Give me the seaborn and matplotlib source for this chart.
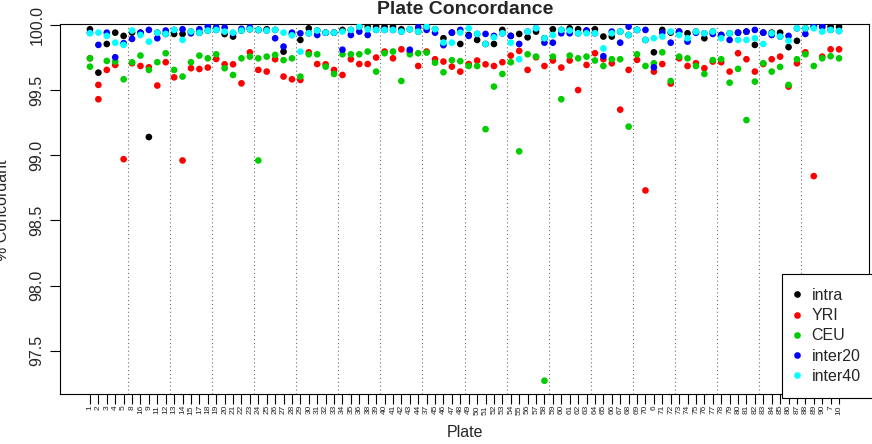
import numpy as np
import pandas as pd
import matplotlib
matplotlib.use('Agg')
import matplotlib.pyplot as plt
from matplotlib.lines import Line2D
import seaborn as sns

# Plate labels in plotting order
plates = ['1', '2', '3', '4', '5', '8', '16', '9', '11', '12', '13', '14', '15',
          '17', '18', '19', '20', '21', '22', '23', '24', '25', '26', '27', '28',
          '29', '30', '31', '32', '33', '34', '35', '36', '38', '39', '40', '41',
          '42', '43', '44', '37', '45', '46', '47', '48', '49', '50', '51', '52',
          '53', '54', '55', '56', '57', '58', '59', '60', '61', '62', '63', '64',
          '65', '66', '67', '68', '69', '70', '6', '71', '72', '73', '74', '75',
          '76', '77', '78', '79', '80', '81', '82', '83', '84', '85', '86', '87',
          '88', '89', '90', '7', '10']

series_names = ['intra', 'YRI', 'CEU', 'inter20', 'inter40']
series_colors = ['#000000', '#FF0000', '#00CD00', '#0000FF', '#00FFFF']

# % concordance per plate
intra = [99.967, 99.634, 99.854, 99.941, 99.916, 99.941, 99.940, 99.140, 99.941, 99.931,
         99.931, 99.931, 99.949, 99.940, 99.957, 99.962, 99.930, 99.911, 99.957, 99.967,
         99.962, 99.967, 99.962, 99.795, 99.930, 99.885, 99.974, 99.957, 99.941, 99.941,
         99.962, 99.962, 99.987, 99.987, 99.987, 99.987, 99.987, 99.967, 99.967, 99.949,
         99.987, 99.967, 99.898, 99.941, 99.854, 99.923, 99.885, 99.854, 99.854, 99.962,
         99.916, 99.931, 99.905, 99.949, 99.898, 99.967, 99.962, 99.974, 99.967, 99.957,
         99.967, 99.911, 99.911, 99.949, 99.923, 99.962, 99.885, 99.790, 99.962, 99.941,
         99.949, 99.936, 99.949, 99.898, 99.949, 99.923, 99.936, 99.941, 99.949, 99.847,
         99.941, 99.941, 99.941, 99.830, 99.878, 99.974, 99.987, 99.987, 99.987, 99.987]
yri = [99.744, 99.540, 99.655, 99.693, 98.970, 99.706, 99.685, 99.675, 99.535, 99.714,
       99.598, 98.960, 99.668, 99.662, 99.673, 99.739, 99.698, 99.698, 99.552, 99.790,
       99.655, 99.642, 99.737, 99.604, 99.583, 99.578, 99.790, 99.700, 99.698, 99.655,
       99.616, 99.737, 99.700, 99.700, 99.750, 99.796, 99.744, 99.813, 99.796, 99.685,
       99.796, 99.737, 99.719, 99.680, 99.642, 99.700, 99.727, 99.698, 99.685, 99.714,
       99.765, 99.801, 99.655, 99.752, 99.685, 99.727, 99.673, 99.727, 99.500, 99.693,
       99.783, 99.737, 99.706, 99.350, 99.655, 99.732, 98.730, 99.642, 99.700, 99.550,
       99.744, 99.685, 99.706, 99.668, 99.719, 99.714, 99.642, 99.783, 99.737, 99.642,
       99.700, 99.737, 99.757, 99.527, 99.706, 99.790, 98.840, 99.757, 99.813, 99.813]
ceu = [99.744, np.nan, 99.724, 99.719, 99.583, 99.714, 99.765, 99.655, 99.714, 99.783,
       99.655, 99.604, 99.714, 99.765, 99.744, 99.775, 99.668, 99.616, 99.744, 99.757,
       98.960, 99.757, 99.770, 99.730, 99.744, 99.604, 99.775, 99.775, 99.680, 99.624,
       99.775, 99.775, 99.775, 99.796, 99.642, 99.783, 99.796, 99.570, 99.775, 99.783,
       99.788, 99.710, 99.637, 99.730, 99.722, 99.685, 99.685, 99.200, 99.527, 99.624,
       99.714, 99.030, 99.775, 99.757, 97.270, 99.757, 99.430, 99.765, 99.744, 99.757,
       99.727, 99.685, 99.737, 99.737, 99.220, 99.775, 99.685, 99.706, 99.790, 99.570,
       99.757, 99.744, 99.685, 99.624, 99.730, 99.737, 99.557, 99.663, 99.270, 99.565,
       99.706, 99.642, 99.678, 99.540, 99.737, 99.775, 99.685, 99.744, 99.760, 99.744]
inter20 = [99.940, 99.847, 99.941, 99.752, 99.860, 99.893, 99.941, 99.962, 99.898, 99.957,
           99.962, 99.967, 99.936, 99.967, 99.987, 99.980, 99.980, 99.936, 99.970, 99.980,
           99.962, 99.957, 99.898, 99.834, 99.941, 99.936, 99.936, 99.923, 99.940, 99.941,
           99.810, 99.923, 99.949, 99.923, 99.962, 99.962, 99.962, 99.949, 99.810, 99.982,
           99.962, 99.941, 99.845, 99.941, 99.962, 99.916, 99.931, 99.931, 99.916, 99.936,
           99.916, 99.854, 99.949, 99.974, 99.864, 99.864, 99.936, 99.936, 99.936, 99.957,
           99.936, 99.760, 99.949, 99.864, 99.987, 99.962, 99.962, 99.675, 99.941, 99.864,
           99.949, 99.872, 99.940, 99.936, 99.931, 99.923, 99.885, 99.941, 99.949, 99.962,
           99.941, 99.923, 99.911, 99.916, 99.974, 99.931, 99.987, 99.987, 99.962, 99.954]
inter40 = [99.936, 99.941, 99.916, 99.864, 99.847, 99.957, 99.923, 99.872, 99.941, 99.931,
           99.962, 99.885, 99.949, 99.940, 99.957, 99.962, 99.949, 99.941, 99.957, 99.967,
           99.962, 99.957, 99.962, 99.941, 99.920, 99.795, 99.936, 99.957, 99.941, 99.941,
           99.949, 99.962, 99.987, 99.967, 99.962, 99.962, 99.962, 99.949, 99.967, 99.949,
           99.987, 99.967, 99.865, 99.864, 99.941, 99.974, 99.931, 99.854, 99.905, 99.936,
           99.864, 99.737, 99.949, 99.974, 99.898, 99.923, 99.962, 99.957, 99.936, 99.936,
           99.936, 99.820, 99.936, 99.949, 99.923, 99.962, 99.885, 99.898, 99.911, 99.949,
           99.923, 99.898, 99.949, 99.936, 99.949, 99.898, 99.936, 99.885, 99.885, 99.898,
           99.854, 99.936, 99.911, 99.878, 99.974, 99.974, 99.974, 99.949, 99.962, 99.954]

# a few plates show a second point for the same group
extra_plate = ['1', '2', '24']
extra_series = ['CEU', 'YRI', 'CEU']
extra_value = [99.68, 99.43, 99.744]

values = dict(zip(series_names, [intra, yri, ceu, inter20, inter40]))

# long format, one block per group so later groups are drawn on top
frames = []
for name in series_names:
    frames.append(pd.DataFrame({'plate': plates, 'series': name, 'value': values[name]}))
    ex_p = [p for p, s in zip(extra_plate, extra_series) if s == name]
    ex_v = [v for v, s in zip(extra_value, extra_series) if s == name]
    if ex_p:
        frames.append(pd.DataFrame({'plate': ex_p, 'series': name, 'value': ex_v}))
df = pd.concat(frames, ignore_index=True).dropna()

sns.set_style('ticks')
plt.rcParams['font.family'] = ['Liberation Sans', 'DejaVu Sans']

fig = plt.figure(figsize=(8.72, 4.44), dpi=100)
ax = fig.add_axes([60 / 872, 50 / 444, 809 / 872, 369.7 / 444])

# dotted separators every 5 plates
for pos in np.arange(4.5, 85, 5):
    ax.axvline(pos, color='#707070', linestyle=(0, (1, 2.5)), lw=0.8, zorder=0)

sns.stripplot(data=df, x='plate', y='value', hue='series', order=plates,
              hue_order=series_names, palette=series_colors, jitter=False,
              size=4.8, linewidth=0, legend=False, ax=ax, zorder=3)

ax.set_xlim(-3.56, 92.56)
ax.set_ylim(97.168, 100.005)
ax.set_yticks([97.5, 98.0, 98.5, 99.0, 99.5, 100.0])
ax.set_yticklabels(['97.5', '98.0', '98.5', '99.0', '99.5', '100.0'])
ax.set_xlabel('')
ax.set_ylabel('')

ax.tick_params(axis='x', labelsize=6, labelrotation=90, length=7, width=0.8,
               pad=1, color='black')
ax.tick_params(axis='y', labelsize=11.5, length=7, width=0.8, pad=4, color='black')
for lab in ax.get_yticklabels():
    lab.set_rotation(90)
    lab.set_va('center')
for sp in ax.spines.values():
    sp.set_visible(True)
    sp.set_color('black')
    sp.set_linewidth(0.8)

fig.text(465 / 872, 1 - 10 / 444, 'Plate Concordance', ha='center', va='center',
         fontsize=14, fontweight='bold')
fig.text(464.5 / 872, 1 - 432 / 444, 'Plate', ha='center', va='center', fontsize=11.5)
fig.text(3 / 872, 0.5 + (444 / 2 - 210) / 444, '% Concordant', ha='center', va='center',
         rotation=90, fontsize=11.5)

handles = [Line2D([], [], marker='o', linestyle='', markersize=4.8,
                  markerfacecolor=c, markeredgewidth=0) for c in series_colors]
leg = ax.legend(handles, series_names, loc='upper left',
                bbox_to_anchor=(781.7 / 872, 1 - 274.3 / 444),
                bbox_transform=fig.transFigure, frameon=True, fancybox=False,
                edgecolor='black', framealpha=1, fontsize=11.5, borderaxespad=0,
                borderpad=0.85, handletextpad=0.84, labelspacing=0.33,
                handlelength=0.18)
leg.get_frame().set_linewidth(0.8)

fig.savefig('out.png', dpi=100)
